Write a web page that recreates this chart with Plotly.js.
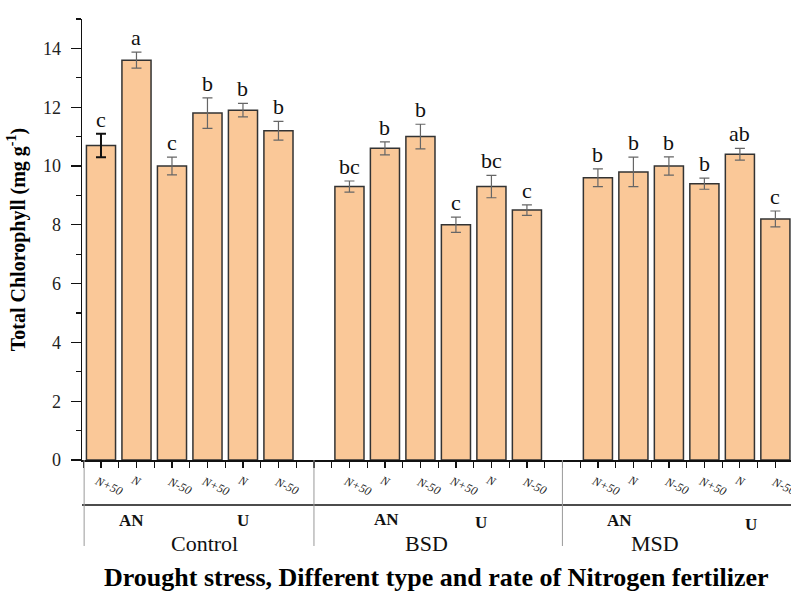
<!DOCTYPE html>
<html>
<head>
<meta charset="utf-8">
<script src="https://cdn.plot.ly/plotly-3.0.1.min.js"></script>
<style>html,body{margin:0;padding:0;background:#fff;overflow:hidden;}#chart{width:791px;height:592px;}</style>
</head>
<body>
<div id="chart"></div>
<script>
// ---- data ----
const groups = ['Control', 'BSD', 'MSD'];
const fertTypes = ['AN', 'U'];
const rates = ['N+50', 'N', 'N-50', 'N+50', 'N', 'N-50'];
const controlVals = [10.7, 13.6, 10.0, 11.8, 11.9, 11.2];
const controlErr = [0.40, 0.27, 0.30, 0.52, 0.23, 0.32];
const controlLetters = ['c', 'a', 'c', 'b', 'b', 'b'];
const bsdVals = [9.3, 10.6, 11.0, 8.0, 9.3, 8.5];
const bsdErr = [0.19, 0.22, 0.42, 0.26, 0.38, 0.18];
const bsdLetters = ['bc', 'b', 'b', 'c', 'bc', 'c'];
const msdVals = [9.6, 9.8, 10.0, 9.4, 10.4, 8.2];
const msdErr = [0.30, 0.50, 0.31, 0.19, 0.20, 0.27];
const msdLetters = ['b', 'b', 'b', 'b', 'ab', 'c'];
const yTicks = [0, 2, 4, 6, 8, 10, 12, 14];

const allVals = [controlVals, bsdVals, msdVals];
const allErr = [controlErr, bsdErr, msdErr];
const allLetters = [controlLetters, bsdLetters, msdLetters];

const SERIF = '"Liberation Serif", "Times New Roman", serif';
const FILL = '#FAC898';

// slot position: 6 bars per group + one empty slot between groups
const xs = [], ys = [], es = [], lets = [], rlab = [];
allVals.forEach((vals, g) => {
  vals.forEach((v, i) => {
    xs.push(g * 7 + i); ys.push(v); es.push(allErr[g][i]);
    lets.push(allLetters[g][i]); rlab.push(rates[i]);
  });
});

const traces = [
  { // first bar with dark, thick error bar
    type: 'bar', x: xs.slice(0, 1), y: ys.slice(0, 1), width: 0.82,
    marker: { color: FILL, line: { color: '#333', width: 1.5 } },
    error_y: { type: 'data', array: es.slice(0, 1), visible: true, color: '#111', thickness: 2, width: 5 },
    hoverinfo: 'skip', showlegend: false
  },
  {
    type: 'bar', x: xs.slice(1), y: ys.slice(1), width: 0.82,
    marker: { color: FILL, line: { color: '#333', width: 1.5 } },
    error_y: { type: 'data', array: es.slice(1), visible: true, color: '#666', thickness: 1.2, width: 5 },
    hoverinfo: 'skip', showlegend: false
  }
];

const annotations = [];
xs.forEach((x, k) => {
  // significance letters
  annotations.push({
    x: x, y: ys[k] + es[k], xref: 'x', yref: 'y', text: lets[k], showarrow: false,
    yanchor: 'bottom', yshift: 0, font: { family: SERIF, size: 22, color: '#111' }
  });
  // rate labels (rotated italic)
  const long = rlab[k] !== 'N';
  annotations.push({
    x: x, y: 0, xref: 'x', yref: 'paper', text: '<i>' + rlab[k] + '</i>', showarrow: false,
    xanchor: 'center', yanchor: 'middle', textangle: 25,
    xshift: long ? 8 : 0, yshift: long ? -26 : -21,
    font: { family: SERIF, size: 12, color: '#222' }
  });
});
// fertilizer type labels
const typePos = [[0.87, 4.0], [8.05, 10.72], [14.62, 18.31]];
const typeShift = [[-60, -60], [-59, -62], [-60, -64]];
typePos.forEach((pp, g) => {
  pp.forEach((px, j) => {
    annotations.push({
      x: px, y: 0, xref: 'x', yref: 'paper', text: '<b>' + fertTypes[j] + '</b>', showarrow: false,
      yanchor: 'middle', yshift: typeShift[g][j], font: { family: SERIF, size: 17, color: '#111' }
    });
  });
});
// group labels
const groupPos = [2.93, 9.17, 15.6];
groups.forEach((gname, g) => {
  annotations.push({
    x: groupPos[g], y: 0, xref: 'x', yref: 'paper', text: gname, showarrow: false,
    yanchor: 'middle', yshift: -83, font: { family: SERIF, size: 22, color: '#111' }
  });
});
// x-axis title
annotations.push({
  x: 0.5, y: 0, xref: 'paper', yref: 'paper', showarrow: false,
  text: '<b>Drought stress, Different type and rate of Nitrogen fertilizer</b>',
  yanchor: 'middle', yshift: -117, font: { family: SERIF, size: 26, color: '#000' }
});

const shapes = [
  { type: 'line', xref: 'paper', yref: 'paper', x0: 0, x1: 1, y0: -0.102, y1: -0.102, line: { color: '#111', width: 1.5 } },
  { type: 'line', xref: 'paper', yref: 'paper', x0: 0.003, x1: 0.003, y0: 0, y1: -0.195, line: { color: '#999', width: 1 } },
  { type: 'line', xref: 'x', yref: 'paper', x0: 6, x1: 6, y0: 0, y1: -0.195, line: { color: '#999', width: 1 } },
  { type: 'line', xref: 'x', yref: 'paper', x0: 13, x1: 13, y0: 0, y1: -0.195, line: { color: '#999', width: 1 } }
];

const layout = {
  width: 791, height: 592,
  margin: { l: 82, r: 0, t: 19, b: 132 },
  paper_bgcolor: '#fff', plot_bgcolor: '#fff',
  bargap: 0,
  xaxis: {
    range: [-0.535, 19.44], showgrid: false, zeroline: false,
    showline: true, linecolor: '#111', linewidth: 1.5,
    ticks: 'outside', tickmode: 'linear', tick0: 0, dtick: 0.5, ticklen: 6, tickwidth: 1.2, tickcolor: '#111',
    showticklabels: false
  },
  yaxis: {
    range: [0, 15], showgrid: false, zeroline: false,
    showline: true, linecolor: '#111', linewidth: 1.5,
    ticks: 'outside', tickvals: yTicks, ticklen: 10, tickwidth: 1.2, tickcolor: '#111',
    ticklabelstandoff: 6,
    minor: { ticks: 'outside', dtick: 1, ticklen: 5, tickwidth: 1.2, tickcolor: '#111' },
    tickfont: { family: SERIF, size: 18, color: '#222' },
    title: { text: '<b>Total Chlorophyll (mg g<sup>-1</sup>)</b>', font: { family: SERIF, size: 20, color: '#000' }, standoff: 12 }
  },
  annotations: annotations,
  shapes: shapes
};

Plotly.newPlot('chart', traces, layout, { displayModeBar: false, staticPlot: true });
</script>
</body>
</html>
